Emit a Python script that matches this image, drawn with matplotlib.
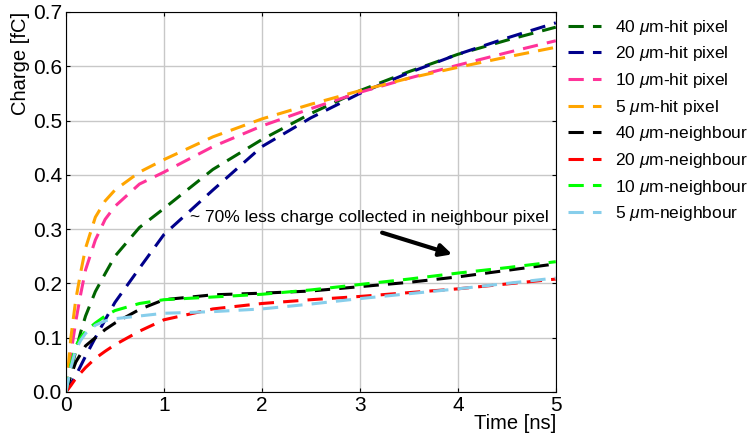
import matplotlib
matplotlib.use("Agg")
import matplotlib.pyplot as plt

plt.rcParams['font.family'] = ['Liberation Sans', 'DejaVu Sans']
plt.rcParams['mathtext.fontset'] = 'custom'
plt.rcParams['mathtext.it'] = 'Liberation Sans:italic'
plt.rcParams['mathtext.rm'] = 'Liberation Sans'

# time points [ns]
time = [0, 0.05, 0.1, 0.15, 0.2, 0.3, 0.4, 0.5, 0.75, 1, 1.5, 2, 2.5, 3, 3.5, 4, 4.5, 5]

# hit pixel charge [fC]
hit_40 = [0, 0.04, 0.075, 0.11, 0.14, 0.185, 0.218, 0.25, 0.303, 0.338, 0.41, 0.465, 0.513, 0.555, 0.59, 0.622, 0.648, 0.672]
hit_20 = [0, 0.015, 0.03, 0.048, 0.066, 0.10, 0.133, 0.165, 0.228, 0.29, 0.372, 0.452, 0.505, 0.55, 0.588, 0.622, 0.652, 0.68]
hit_10 = [0, 0.07, 0.13, 0.18, 0.225, 0.28, 0.318, 0.342, 0.383, 0.405, 0.452, 0.49, 0.522, 0.552, 0.578, 0.602, 0.625, 0.647]
hit_5 = [0, 0.10, 0.17, 0.22, 0.265, 0.322, 0.352, 0.372, 0.405, 0.428, 0.47, 0.503, 0.53, 0.555, 0.578, 0.598, 0.617, 0.635]

# neighbour pixel charge [fC]
nb_40 = [0, 0.03, 0.055, 0.07, 0.085, 0.1, 0.115, 0.127, 0.152, 0.17, 0.179, 0.182, 0.186, 0.194, 0.202, 0.212, 0.224, 0.236]
nb_20 = [0, 0.012, 0.025, 0.035, 0.045, 0.062, 0.075, 0.087, 0.112, 0.133, 0.153, 0.163, 0.17, 0.176, 0.183, 0.19, 0.199, 0.208]
nb_10 = [0, 0.05, 0.085, 0.1, 0.112, 0.127, 0.14, 0.15, 0.163, 0.17, 0.175, 0.18, 0.188, 0.198, 0.208, 0.219, 0.229, 0.24]
nb_5 = [0, 0.045, 0.078, 0.095, 0.108, 0.123, 0.131, 0.135, 0.14, 0.145, 0.148, 0.153, 0.162, 0.172, 0.181, 0.19, 0.2, 0.21]

series = [
    (hit_40, '#006400', r'40 $\mu$m-hit pixel'),
    (hit_20, '#00008b', r'20 $\mu$m-hit pixel'),
    (hit_10, '#ff3399', r'10 $\mu$m-hit pixel'),
    (hit_5, '#ffa500', r'5 $\mu$m-hit pixel'),
    (nb_40, 'black', r'40 $\mu$m-neighbour'),
    (nb_20, '#ff0000', r'20 $\mu$m-neighbour'),
    (nb_10, '#00ff00', r'10 $\mu$m-neighbour'),
    (nb_5, '#87ceeb', r'5 $\mu$m-neighbour'),
]

fig = plt.figure(figsize=(7.53, 4.34), dpi=100)
ax = fig.add_axes([0.0876, 0.0968, 0.6505, 0.8756])

for vals, col, lab in series:
    ax.plot(time, vals, linestyle='--', dashes=(5, 3), color=col, lw=2.2, label=lab)

ax.set_xlim(0, 5)
ax.set_ylim(0, 0.7)
ax.set_xticks([0, 1, 2, 3, 4, 5])
ax.set_yticks([0, 0.1, 0.2, 0.3, 0.4, 0.5, 0.6, 0.7])
ax.set_yticklabels(['0.0', '0.1', '0.2', '0.3', '0.4', '0.5', '0.6', '0.7'])
ax.grid(True, color='#c8c8c8', lw=1)
ax.tick_params(direction='in', labelsize=15, length=3, top=True, right=True, pad=3)
ax.set_xlabel('Time [ns]', loc='right', fontsize=14.5, labelpad=-1)
ax.set_ylabel('Charge [fC]', loc='top', fontsize=14.5, labelpad=2)

ax.annotate('', xy=(3.97, 0.252), xytext=(3.2, 0.295),
            arrowprops=dict(arrowstyle='-|>', color='black', lw=3, mutation_scale=18))
ax.text(1.265, 0.322, '~ 70% less charge collected in neighbour pixel', fontsize=12.5,
        va='center', ha='left')

ax.legend(loc='upper left', bbox_to_anchor=(1.0, 1.017), frameon=False, fontsize=12.5,
          handlelength=1.9, handletextpad=0.8, labelspacing=0.44, borderaxespad=0.3)

fig.savefig('out.png', dpi=100)
